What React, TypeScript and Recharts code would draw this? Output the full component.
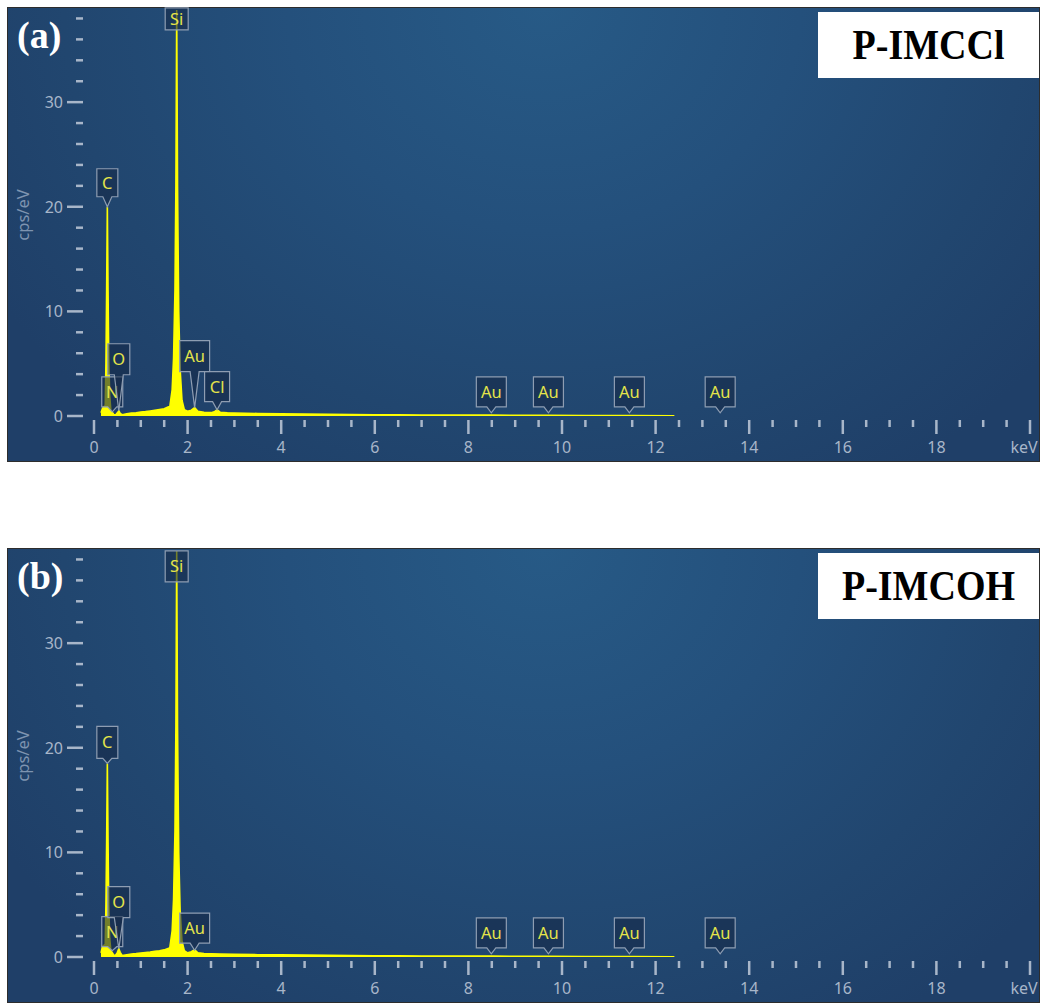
import React from "react";
import { ComposedChart, Area, XAxis, YAxis, ReferenceDot } from "recharts";

// EDS spectrum (a): energy in keV and counts in cps/eV
const energyA = [
  0.15, 0.18, 0.21, 0.24, 0.255, 0.27, 0.285, 0.3, 0.315, 0.335, 0.36, 0.39,
  0.42, 0.46, 0.5, 0.53, 0.56, 0.6, 0.7, 0.8, 0.9, 1.0, 1.1, 1.2, 1.3, 1.4,
  1.5, 1.58, 1.62, 1.67, 1.7, 1.73, 1.75, 1.767, 1.785, 1.81, 1.84, 1.88,
  1.93, 2.0, 2.08, 2.15, 2.22, 2.35, 2.5, 2.57, 2.63, 2.7, 2.85, 3.0, 3.5,
  4.0, 4.5, 5.0, 5.5, 6.0, 6.5, 7.0, 7.5, 8.0, 8.5, 9.0, 9.7, 10.5, 11.5,
  12.4,
];
const countsA = [
  0.3, 0.7, 0.9, 1.0, 5, 12, 20.0, 12, 5.5, 2, 0.5, 0.35,
  0.15, 0.1, 0.3, 0.5, 0.25, 0.12, 0.2, 0.28, 0.3, 0.38, 0.42, 0.48, 0.55, 0.62,
  0.7, 0.85, 0.9, 2.5, 5.5, 12, 22, 38.8, 22, 10, 4.5, 1.5,
  0.6, 0.45, 0.55, 0.8, 0.45, 0.35, 0.32, 0.4, 0.6, 0.35, 0.3, 0.28, 0.24,
  0.2, 0.18, 0.16, 0.14, 0.12, 0.11, 0.1, 0.09, 0.08, 0.08, 0.07, 0.07, 0.05, 0.04,
  0.03,
];

// EDS spectrum (b)
const energyB = [
  0.15, 0.18, 0.21, 0.24, 0.255, 0.27, 0.285, 0.3, 0.315, 0.335, 0.36, 0.39,
  0.42, 0.46, 0.5, 0.53, 0.56, 0.6, 0.7, 0.8, 0.9, 1.0, 1.1, 1.2, 1.3, 1.4,
  1.5, 1.58, 1.62, 1.67, 1.7, 1.73, 1.75, 1.767, 1.785, 1.81, 1.84, 1.88,
  1.93, 2.0, 2.08, 2.15, 2.22, 2.35, 2.5, 2.7, 3.0, 3.5,
  4.0, 4.5, 5.0, 5.5, 6.0, 6.5, 7.0, 7.5, 8.0, 8.5, 9.0, 9.7, 10.5, 11.5,
  12.4,
];
const countsB = [
  0.4, 1.0, 1.1, 1.2, 5, 11, 18.5, 11, 5, 1.8, 0.6, 0.4,
  0.2, 0.15, 0.45, 0.8, 0.45, 0.15, 0.22, 0.28, 0.32, 0.38, 0.43, 0.48, 0.55, 0.6,
  0.68, 0.8, 0.9, 2.5, 5.5, 12, 22, 38.8, 22, 10, 4.5, 1.5,
  0.6, 0.4, 0.5, 0.7, 0.4, 0.32, 0.3, 0.28, 0.26, 0.22,
  0.2, 0.18, 0.16, 0.14, 0.12, 0.11, 0.1, 0.09, 0.08, 0.08, 0.07, 0.07, 0.05, 0.04,
  0.03,
];

// peak identification labels: element, line energy (keV), value the pointer tip sits on
const peaksA = ["Si", "C", "N", "O", "Au", "Cl", "Au", "Au", "Au", "Au"];
const peakKeVA = [1.767, 0.285, 0.39, 0.53, 2.15, 2.63, 8.49, 9.71, 11.44, 13.38];
const peakAtA = [36.9, 20.0, 0.4, 0.5, 0.8, 0.6, 0.3, 0.3, 0.3, 0.3];

const peaksB = ["Si", "C", "N", "O", "Au", "Au", "Au", "Au", "Au"];
const peakKeVB = [1.767, 0.285, 0.39, 0.53, 2.15, 8.49, 9.71, 11.44, 13.38];
const peakAtB = [35.85, 18.5, 0.6, 0.8, 0.65, 0.3, 0.3, 0.3, 0.3];

// callout geometry in px: pointer length and box height
const stemA = [0, 10, 5, 36, 36, 8, 6, 6, 6, 6];
const boxHA = [22, 28, 30, 31, 31, 30, 30, 30, 30, 30];
const stemB = [0, 5, 4, 31, 7, 6, 6, 6, 6];
const boxHB = [31, 32, 30, 31, 30, 30, 30, 30, 30];

const xLabels = ["0", "2", "4", "6", "8", "10", "12", "14", "16", "18", "keV"];
const yLabels = ["0", "10", "20", "30"];

const xTicks = Array.from({ length: 41 }, (_, i) => i * 0.5);
const yTicks = Array.from({ length: 20 }, (_, i) => i * 2);

const AXIS = "#a8b6c9";
const FONT = "'Noto Sans', 'Open Sans', sans-serif";
const boxWidth: Record<string, number> = { Si: 23, C: 21, N: 21, O: 22, Au: 30, Cl: 25 };

function EnergyTick(props: any) {
  const { x, y, payload } = props;
  const v = payload.value as number;
  const major = Math.abs(v % 2) < 1e-9;
  const label = xLabels[Math.round(v / 2)];
  return (
    <g>
      <line x1={x} x2={x} y1={y + 4} y2={y + (major ? 18 : 11)} stroke={AXIS} strokeWidth={2.5} />
      {major && (
        <text x={v === 20 ? x - 6 : x} y={y + 37} textAnchor="middle" fill={AXIS} fontSize={16} fontFamily={FONT}>
          {label}
        </text>
      )}
    </g>
  );
}

function CountTick(props: any) {
  const { x, y, payload } = props;
  const v = payload.value as number;
  const major = v % 10 === 0;
  return (
    <g>
      <line x1={major ? x - 27 : x - 18} x2={x - 11} y1={y} y2={y} stroke={AXIS} strokeWidth={2.5} />
      {major && (
        <text x={x - 31} y={y + 6} textAnchor="end" fill={AXIS} fontSize={16} fontFamily={FONT}>
          {yLabels[v / 10]}
        </text>
      )}
    </g>
  );
}

function makeCallout(el: string, stem: number, boxH: number) {
  return (p: any) => {
    const { cx, cy } = p;
    const w = boxWidth[el] ?? 24;
    const bottom = cy - stem;
    const top = bottom - boxH;
    const left = cx - w / 2;
    const right = cx + w / 2;
    const hw = 4.5;
    const d =
      stem > 0
        ? `M${left},${top}H${right}V${bottom}H${cx + hw}L${cx},${cy}L${cx - hw},${bottom}H${left}Z`
        : `M${left},${top}H${right}V${bottom}H${left}Z`;
    return (
      <g>
        <path d={d} fill="rgba(22,42,72,0.6)" stroke="#8e9db2" strokeWidth={1.2} />
        <text x={cx} y={(top + bottom) / 2 + 6} textAnchor="middle" fill="#e4e44a" fontSize={16.5} fontFamily={FONT}>
          {el}
        </text>
      </g>
    );
  };
}

interface PanelProps {
  top: number;
  tag: string;
  title: string;
  energy: number[];
  counts: number[];
  peaks: string[];
  peakKeV: number[];
  peakAt: number[];
  stems: number[];
  boxH: number[];
}

function SpectrumPanel({ top, tag, title, energy, counts, peaks, peakKeV, peakAt, stems, boxH }: PanelProps) {
  const data = energy.map((e, i) => ({ keV: e, cps: counts[i] }));
  return (
    <div
      style={{
        position: "absolute",
        left: 7,
        top,
        width: 1033,
        height: 455,
        overflow: "hidden",
        background:
          "radial-gradient(ellipse 640px 560px at 52% 0%, #275a86 0%, #24507c 40%, #21466f 75%, #1f3f68 100%)",
        outline: "1px solid #2d2d2d",
        outlineOffset: -1,
      }}
    >
      <ComposedChart width={1033} height={455} data={data} margin={{ top: 1, right: 10, bottom: 0, left: 0 }}>
        <XAxis
          type="number"
          dataKey="keV"
          domain={[0, 20]}
          ticks={xTicks}
          interval={0}
          tick={(p: any) => <EnergyTick {...p} />}
          tickLine={false}
          axisLine={false}
          tickSize={0}
          tickMargin={0}
          height={46}
          allowDataOverflow
        />
        <YAxis
          type="number"
          domain={[0, 39]}
          ticks={yTicks}
          interval={0}
          tick={(p: any) => <CountTick {...p} />}
          tickLine={false}
          axisLine={false}
          tickSize={0}
          tickMargin={0}
          width={87}
          allowDataOverflow
        />
        <Area
          type="linear"
          dataKey="cps"
          stroke="#ffff00"
          strokeWidth={1.6}
          fill="#ffff00"
          fillOpacity={1}
          dot={false}
          activeDot={false}
          isAnimationActive={false}
        />
        {peaks.map((el, i) => (
          <ReferenceDot
            key={i}
            x={peakKeV[i]}
            y={peakAt[i]}
            ifOverflow="visible"
            shape={makeCallout(el, stems[i], boxH[i])}
          />
        ))}
      </ComposedChart>
      <div
        style={{
          position: "absolute",
          left: 15,
          top: 208,
          transform: "translate(-50%, -50%) rotate(-90deg)",
          color: "#7e94b0",
          fontFamily: FONT,
          fontSize: 16.5,
          whiteSpace: "nowrap",
        }}
      >
        cps/eV
      </div>
      <div
        style={{
          position: "absolute",
          left: 10,
          top: 9,
          color: "#ffffff",
          fontFamily: "'Liberation Serif', 'Times New Roman', serif",
          fontWeight: "bold",
          fontSize: 38,
          lineHeight: 1,
        }}
      >
        {tag}
      </div>
      <div
        style={{
          position: "absolute",
          left: 811,
          top: 5,
          width: 221,
          height: 66,
          background: "#ffffff",
          display: "flex",
          alignItems: "center",
          justifyContent: "center",
          fontFamily: "'Liberation Serif', 'Times New Roman', serif",
          fontWeight: "bold",
          fontSize: 38,
          color: "#000000",
        }}
      >
        <span style={{ display: "inline-block", transform: "scaleY(1.1)" }}>{title}</span>
      </div>
    </div>
  );
}

export default function App() {
  return (
    <div style={{ position: "absolute", left: 0, top: 0, width: 1045, height: 1003, background: "#ffffff" }}>
      <SpectrumPanel
        top={7}
        tag="(a)"
        title="P-IMCCl"
        energy={energyA}
        counts={countsA}
        peaks={peaksA}
        peakKeV={peakKeVA}
        peakAt={peakAtA}
        stems={stemA}
        boxH={boxHA}
      />
      <SpectrumPanel
        top={548}
        tag="(b)"
        title="P-IMCOH"
        energy={energyB}
        counts={countsB}
        peaks={peaksB}
        peakKeV={peakKeVB}
        peakAt={peakAtB}
        stems={stemB}
        boxH={boxHB}
      />
    </div>
  );
}
